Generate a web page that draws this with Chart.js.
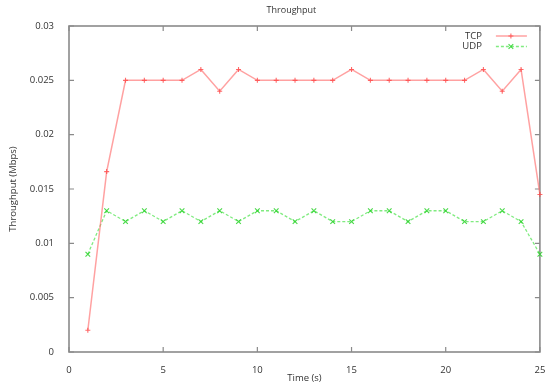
<!DOCTYPE html>
<html>
<head>
<meta charset="utf-8">
<script src="https://cdn.jsdelivr.net/npm/chart.js@4/dist/chart.umd.min.js"></script>
<style>
  html, body { margin: 0; padding: 0; background: #fff; }
  #wrap { width: 545px; height: 385px; position: relative; }
</style>
</head>
<body>
<div id="wrap"><canvas id="c" width="545" height="385"></canvas></div>
<script>
// ---- data ----
const times = [1,2,3,4,5,6,7,8,9,10,11,12,13,14,15,16,17,18,19,20,21,22,23,24,25];
const tcp = [0.002,0.0166,0.025,0.025,0.025,0.025,0.026,0.024,0.026,0.025,0.025,0.025,0.025,0.025,0.026,0.025,0.025,0.025,0.025,0.025,0.025,0.026,0.024,0.026,0.0145];
const udp = [0.009,0.013,0.012,0.013,0.012,0.013,0.012,0.013,0.012,0.013,0.013,0.012,0.013,0.012,0.012,0.013,0.013,0.012,0.013,0.013,0.012,0.012,0.013,0.012,0.009];
const xTickLabels = ['0','5','10','15','20','25'];
const yTickLabels = ['0','0.005','0.01','0.015','0.02','0.025','0.03'];
const titleText = 'Throughput';
const xTitle = 'Time (s)';
const yTitle = 'Throughput (Mbps)';
const seriesNames = ['TCP','UDP'];

const FONT = "'Open Sans', 'DejaVu Sans', sans-serif";
const TEXT = '#333';

const frameTicks = {
  id: 'frameTicks',
  beforeDatasetsDraw(chart) {
    const {ctx, chartArea: a, scales} = chart;
    ctx.save();
    ctx.strokeStyle = '#8a8a8a';
    ctx.lineWidth = 1.6;
    ctx.strokeRect(a.left, a.top, a.right - a.left, a.bottom - a.top);
    ctx.lineWidth = 1.2;
    const L = 5;
    ctx.beginPath();
    scales.x.ticks.forEach(t => {
      const px = scales.x.getPixelForValue(t.value);
      ctx.moveTo(px, a.bottom); ctx.lineTo(px, a.bottom - L);
      ctx.moveTo(px, a.top); ctx.lineTo(px, a.top + L);
    });
    scales.y.ticks.forEach(t => {
      const py = scales.y.getPixelForValue(t.value);
      ctx.moveTo(a.left, py); ctx.lineTo(a.left + L, py);
      ctx.moveTo(a.right, py); ctx.lineTo(a.right - L, py);
    });
    ctx.stroke();
    ctx.restore();
  },
  afterDraw(chart) {
    const {ctx, chartArea: a} = chart;
    ctx.save();
    // title
    ctx.fillStyle = TEXT;
    ctx.font = '9px ' + FONT;
    ctx.textAlign = 'center';
    ctx.textBaseline = 'middle';
    ctx.fillText(titleText, (a.left + a.right) / 2 - 13, 10);
    // legend
    ctx.font = '9.5px ' + FONT;
    chart.data.datasets.forEach((ds, i) => {
      const y = 36 + i * 10.5;
      ctx.fillStyle = TEXT;
      ctx.textAlign = 'right';
      ctx.fillText(ds.label, a.right - 58, y);
      ctx.strokeStyle = ds.borderColor;
      ctx.lineWidth = ds.borderWidth;
      ctx.setLineDash(ds.borderDash || []);
      ctx.beginPath();
      ctx.moveTo(a.right - 44, y); ctx.lineTo(a.right - 13, y);
      ctx.stroke();
      ctx.setLineDash([]);
      const cx = a.right - 29, r = ds.pointRadius;
      ctx.beginPath();
      if (ds.pointStyle === 'cross') {
        ctx.moveTo(cx - r, y); ctx.lineTo(cx + r, y);
        ctx.moveTo(cx, y - r); ctx.lineTo(cx, y + r);
      } else {
        const d = r * 0.707;
        ctx.moveTo(cx - d, y - d); ctx.lineTo(cx + d, y + d);
        ctx.moveTo(cx - d, y + d); ctx.lineTo(cx + d, y - d);
      }
      ctx.strokeStyle = ds.pointBorderColor;
      ctx.lineWidth = 1.1;
      ctx.stroke();
    });
    ctx.restore();
  }
};

new Chart(document.getElementById('c'), {
  type: 'line',
  data: {
    datasets: [
      {
        label: seriesNames[0],
        data: times.map((t, i) => ({x: t, y: tcp[i]})),
        borderColor: 'rgba(255,110,110,0.65)',
        pointBorderColor: 'rgba(255,70,70,0.8)',
        pointBackgroundColor: 'rgba(255,70,70,0.8)',
        borderWidth: 1.5,
        pointStyle: 'cross',
        pointRadius: 2.5,
        pointBorderWidth: 1.1,
        tension: 0,
        clip: false
      },
      {
        label: seriesNames[1],
        data: times.map((t, i) => ({x: t, y: udp[i]})),
        borderColor: 'rgba(60,225,60,0.65)',
        pointBorderColor: 'rgba(40,210,40,0.85)',
        pointBackgroundColor: 'rgba(40,210,40,0.85)',
        borderWidth: 1.3,
        borderDash: [3, 2],
        pointStyle: 'crossRot',
        pointRadius: 3.3,
        pointBorderWidth: 1.1,
        tension: 0,
        clip: false
      }
    ]
  },
  options: {
    responsive: false,
    animation: false,
    layout: { padding: { top: 26, right: 4, left: 0, bottom: 0 } },
    plugins: { legend: { display: false }, title: { display: false }, tooltip: { enabled: false } },
    scales: {
      x: {
        type: 'linear',
        min: 0, max: 25,
        grid: { display: false },
        border: { display: false },
        ticks: {
          stepSize: 5,
          color: TEXT,
          font: { family: FONT, size: 9.5 },
          padding: 5,
          maxRotation: 0,
          callback: (v) => xTickLabels[Math.round(v / 5)]
        },
        title: { display: true, text: xTitle, color: TEXT, font: { family: FONT, size: 9.5 }, padding: { top: 0, bottom: 1 } },
        afterFit: (s) => { s.height = 33; s.paddingRight = 0; }
      },
      y: {
        min: 0, max: 0.03,
        grid: { display: false },
        border: { display: false },
        ticks: {
          stepSize: 0.005,
          color: TEXT,
          font: { family: FONT, size: 9.5 },
          padding: 7,
          callback: (v) => yTickLabels[Math.round(v / 0.005)]
        },
        title: { display: true, text: yTitle, color: TEXT, font: { family: FONT, size: 9.5 }, padding: { top: 8, bottom: 0 } },
        afterFit: (s) => { s.width = 69; }
      }
    }
  },
  plugins: [frameTicks]
});
</script>
</body>
</html>
